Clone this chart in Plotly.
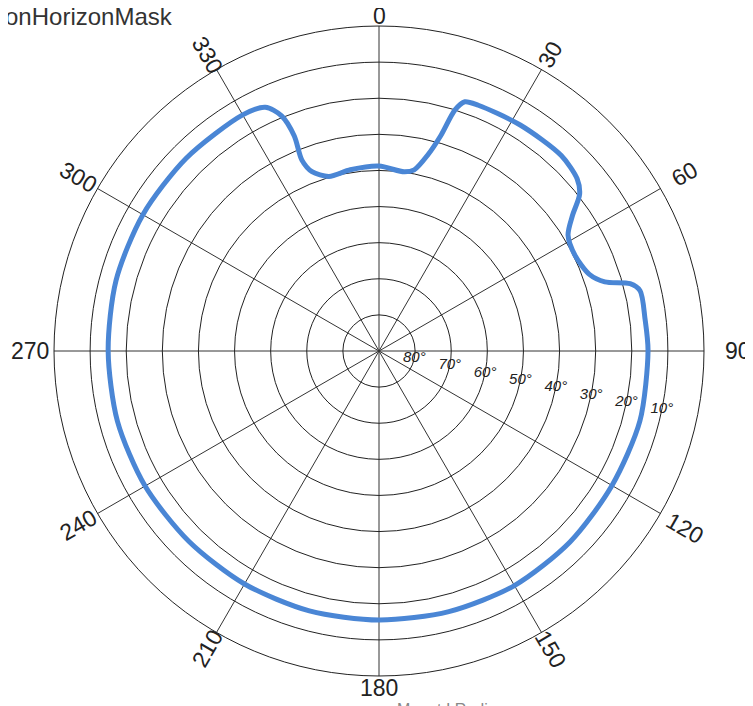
import math
import plotly.graph_objects as go

# ---- data ----
azimuth = [0, 8, 11, 14, 16, 17.5, 19, 22, 32, 43, 49, 52, 55, 58.5, 64, 70, 73, 75, 77, 83,
           90, 105, 120, 135, 150, 165, 180, 195, 210, 225, 240, 255, 270, 285, 300, 315,
           330, 335, 337.5, 338.5, 338, 339.5, 344, 351, 360]
elevation = [38.8, 39.9, 38.9, 34, 28, 20, 17, 16.6, 16.2, 16, 17.3, 19.5, 24.6, 28.6, 29.6, 28, 24.6, 18, 15.8, 15.8,
             15.5, 15.2, 15.5, 15.2, 15.0, 15.3, 15.5, 15.5, 15.5, 15.5, 15.2, 15.0, 15.0, 14.6, 14.5, 14.5,
             14.5, 15.5, 19.5, 26, 33, 37, 39.7, 39.2, 38.8]

angular_ticks = [0, 30, 60, 90, 120, 150, 180, 210, 240, 270, 300, 330]
radial_ticks = [80, 70, 60, 50, 40, 30, 20, 10]
radial_label_angle = 101.7

title_text = "ObstructionHorizonMask"
footer_text = "Mount I Radius"

W, H = 753, 706
ML, MR, MT, MB = 46, 57, 18, 38
PW = W - ML - MR
PH = H - MT - MB
R_PX = PW / 2.0

fig = go.Figure()

fig.add_trace(go.Scatterpolar(
    r=elevation, theta=azimuth, mode="lines",
    line=dict(color="#4a86d5", width=5, shape="spline", smoothing=0.8),
    hoverinfo="skip", showlegend=False,
))

fig.add_trace(go.Scatterpolar(
    r=radial_ticks, theta=[radial_label_angle] * len(radial_ticks), mode="text",
    text=[f"{v}°" for v in radial_ticks],
    textfont=dict(family="Liberation Sans", size=15, color="#222", style="italic"),
    textposition="middle center", cliponaxis=False,
    hoverinfo="skip", showlegend=False,
))

annotations = []
for a in angular_ticks:
    rot = (a % 180) - 90
    if rot == -90:
        rot = 0
    s = math.sin(math.radians(a))
    c = math.cos(math.radians(a))
    label_r = R_PX + 12 + 12 * abs(s) + 10 * max(0.0, s) ** 4 - 2 * max(0.0, c) ** 8
    xp = 0.5 + label_r / PW * s
    yp = 0.5 + label_r / PH * c
    annotations.append(dict(
        x=xp, y=yp, xref="paper", yref="paper", text=str(a), showarrow=False,
        xanchor="center", yanchor="middle", textangle=rot,
        font=dict(family="Liberation Sans", size=23, color="#222"),
    ))

# title (left part runs off the page, as in the reference)
annotations.append(dict(
    x=(167 - ML) / PW, y=(H - MB - 24) / PH, xref="paper", yref="paper",
    text=title_text, showarrow=False, xanchor="right", yanchor="bottom",
    font=dict(family="Liberation Sans", size=24, color="#333"),
))
annotations.append(dict(
    x=(387 - ML) / PW, y=(H - MB - 691) / PH, xref="paper", yref="paper",
    text=footer_text, showarrow=False, xanchor="left", yanchor="top",
    font=dict(family="Liberation Sans", size=16, color="#888"),
))

fig.update_layout(
    width=W, height=H,
    margin=dict(l=ML, r=MR, t=MT, b=MB),
    paper_bgcolor="white",
    plot_bgcolor="white",
    showlegend=False,
    annotations=annotations,
    polar=dict(
        domain=dict(x=[0, 1], y=[0, 1]),
        bgcolor="white",
        angularaxis=dict(
            rotation=90, direction="clockwise",
            tickmode="array", tickvals=angular_ticks,
            showticklabels=False, ticks="",
            showgrid=True, gridcolor="#333", gridwidth=1,
            showline=True, linecolor="#222", linewidth=1,
        ),
        radialaxis=dict(
            range=[90, 0],
            tickmode="array", tickvals=radial_ticks,
            showticklabels=False, ticks="",
            showgrid=True, gridcolor="#222", gridwidth=1,
            showline=False,
        ),
    ),
)

fig.write_html("out.html")
